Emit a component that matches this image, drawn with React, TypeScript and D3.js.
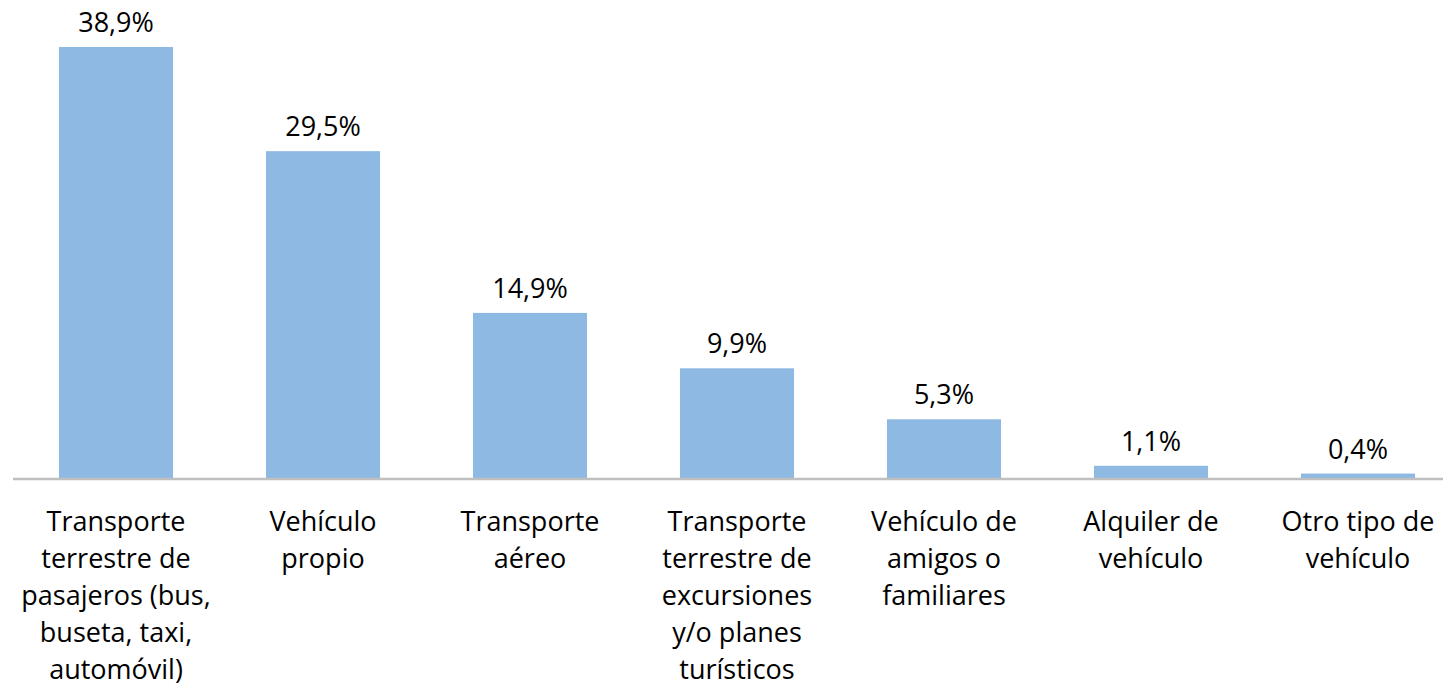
import React from "react";
import * as d3 from "d3";

const categories: string[][] = [
  ["Transporte", "terrestre de", "pasajeros (bus,", "buseta, taxi,", "automóvil)"],
  ["Vehículo", "propio"],
  ["Transporte", "aéreo"],
  ["Transporte", "terrestre de", "excursiones", "y/o planes", "turísticos"],
  ["Vehículo de", "amigos o", "familiares"],
  ["Alquiler de", "vehículo"],
  ["Otro tipo de", "vehículo"],
];
const values: number[] = [38.9, 29.5, 14.9, 9.9, 5.3, 1.1, 0.4];
const valueLabels: string[] = ["38,9%", "29,5%", "14,9%", "9,9%", "5,3%", "1,1%", "0,4%"];

const W = 1443;
const H = 692;
const FONT = "'Open Sans', sans-serif";

export default function App() {
  const idx = values.map((_, i) => String(i));
  const x = d3
    .scaleBand<string>()
    .domain(idx)
    .range([12.5, 1461.5])
    .paddingInner(0.449)
    .paddingOuter(0.2245);
  const y = d3.scaleLinear().domain([0, 38.9]).range([478, 47]);

  return (
    <svg
      width={W}
      height={H}
      style={{ position: "absolute", left: 0, top: 0, background: "#fff" }}
      fontFamily={FONT}
    >
      {values.map((v, i) => (
        <rect
          key={"b" + i}
          x={x(String(i))}
          y={y(v)}
          width={x.bandwidth()}
          height={y(0) - y(v)}
          fill="#8DB9E2"
        />
      ))}
      <line x1={13} x2={W} y1={479} y2={479} stroke="#BFBFBF" strokeWidth={2.5} />
      {values.map((v, i) => (
        <text
          key={"v" + i}
          x={(x(String(i)) as number) + x.bandwidth() / 2}
          y={y(v) - 15}
          textAnchor="middle"
          fontSize={27}
          fill="#000"
        >
          {valueLabels[i]}
        </text>
      ))}
      {categories.map((lines, i) => (
        <text
          key={"c" + i}
          x={(x(String(i)) as number) + x.bandwidth() / 2}
          y={531}
          textAnchor="middle"
          fontSize={27}
          fill="#000"
        >
          {lines.map((l, j) => (
            <tspan key={j} x={(x(String(i)) as number) + x.bandwidth() / 2} y={531 + j * 37}>
              {l}
            </tspan>
          ))}
        </text>
      ))}
    </svg>
  );
}
